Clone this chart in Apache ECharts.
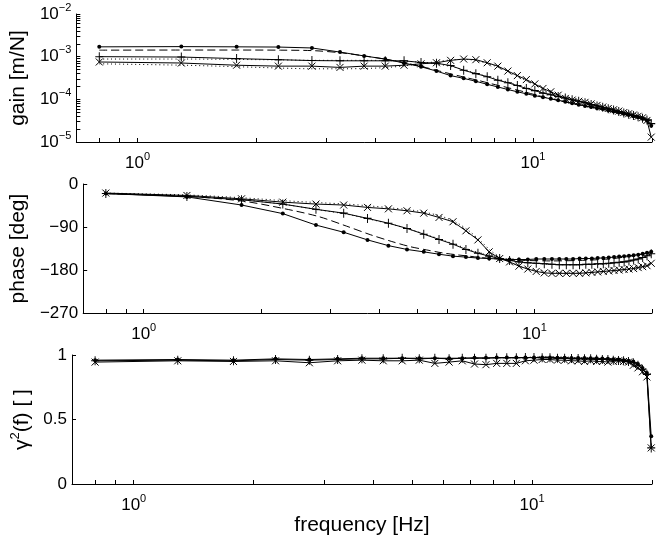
<!DOCTYPE html>
<html>
<head>
<meta charset="utf-8">
<script src="https://cdn.jsdelivr.net/npm/echarts@6/dist/echarts.min.js"></script>
<style>
html,body{margin:0;padding:0;background:#fff;}
#c{width:656px;height:539px;}
</style>
</head>
<body>
<div id="c"></div>
<script>
// ---------- data ----------
const freq = [0.80, 1.29, 1.78, 2.27, 2.76, 3.25, 3.74, 4.23, 4.72, 5.21, 5.70, 6.19, 6.68, 7.17, 7.66, 8.15, 8.64, 9.13, 9.62, 10.11,
  10.60, 11.09, 11.58, 12.07, 12.56, 13.05, 13.54, 14.03, 14.52, 15.01, 15.50, 15.99, 16.48, 16.97, 17.46, 17.95, 18.44, 18.93, 19.42, 19.91];

const gainDot = [1.70e-3, 1.72e-3, 1.70e-3, 1.68e-3, 1.60e-3, 1.28e-3, 1.04e-3, 8.8e-4, 7.1e-4, 5.8e-4, 4.6e-4, 3.6e-4, 3.1e-4, 2.65e-4, 2.25e-4, 1.95e-4, 1.70e-4, 1.50e-4, 1.35e-4, 1.22e-4,
  1.12e-4, 1.03e-4, 9.5e-5, 8.8e-5, 8.1e-5, 7.5e-5, 7.0e-5, 6.6e-5, 6.2e-5, 5.9e-5, 5.5e-5, 5.2e-5, 4.9e-5, 4.6e-5, 4.3e-5, 4.0e-5, 3.8e-5, 3.5e-5, 3.2e-5, 2.4e-5];
const gainPlus = [1.0e-3, 9.8e-4, 9.0e-4, 8.5e-4, 8.1e-4, 8.0e-4, 8.0e-4, 8.0e-4, 8.0e-4, 7.3e-4, 7.0e-4, 6.2e-4, 4.8e-4, 4.0e-4, 3.4e-4, 2.8e-4, 2.45e-4, 2.1e-4, 1.8e-4, 1.6e-4,
  1.4e-4, 1.28e-4, 1.17e-4, 1.07e-4, 9.8e-5, 9.0e-5, 8.3e-5, 7.6e-5, 7.0e-5, 6.5e-5, 6.0e-5, 5.6e-5, 5.2e-5, 4.8e-5, 4.5e-5, 4.2e-5, 3.9e-5, 3.6e-5, 3.3e-5, 2.7e-5];
const gainCross = [7.5e-4, 7.1e-4, 6.3e-4, 6.0e-4, 6.0e-4, 5.6e-4, 6.0e-4, 6.0e-4, 6.3e-4, 6.8e-4, 7.2e-4, 8.2e-4, 8.8e-4, 8.5e-4, 7.2e-4, 6.0e-4, 4.6e-4, 3.6e-4, 2.9e-4, 2.3e-4,
  1.8e-4, 1.5e-4, 1.25e-4, 1.05e-4, 9.6e-5, 9.0e-5, 8.5e-5, 7.8e-5, 7.2e-5, 6.6e-5, 6.1e-5, 5.7e-5, 5.3e-5, 4.9e-5, 4.6e-5, 4.3e-5, 4.0e-5, 3.7e-5, 3.2e-5, 1.3e-5];

const phaseDot = [-20, -27, -44, -62, -86, -101, -117, -129, -137, -142, -147, -151, -153, -155, -156, -157, -158, -158, -158, -157,
  -157, -157, -157, -157, -157, -156, -156, -156, -155, -155, -154, -153, -152, -151, -150, -149, -148, -146, -144, -142];
const phasePlus = [-20, -26, -33, -42, -53, -61, -72, -82, -93, -105, -116, -126, -137, -145, -151, -156, -160, -163, -165, -166,
  -167, -168, -169, -169, -169, -169, -168, -168, -167, -167, -166, -165, -164, -163, -161, -159, -157, -154, -150, -146];
const phaseCross = [-19, -24, -31, -38, -42, -44, -49, -52, -56, -61, -70, -79, -98, -117, -142, -156, -163, -172, -178, -183,
  -186, -187, -187, -187, -187, -187, -186, -185, -184, -183, -182, -181, -180, -179, -178, -177, -175, -173, -171, -166];

const cohDot = [0.96, 0.965, 0.96, 0.97, 0.965, 0.97, 0.975, 0.975, 0.975, 0.975, 0.975, 0.975, 0.975, 0.978, 0.978, 0.98, 0.98, 0.98, 0.98, 0.98,
  0.98, 0.98, 0.978, 0.978, 0.976, 0.976, 0.976, 0.975, 0.975, 0.972, 0.97, 0.968, 0.965, 0.96, 0.955, 0.95, 0.93, 0.90, 0.86, 0.37];
const cohPlus = [0.955, 0.96, 0.955, 0.965, 0.96, 0.965, 0.97, 0.97, 0.975, 0.97, 0.975, 0.97, 0.975, 0.975, 0.975, 0.978, 0.978, 0.978, 0.98, 0.98,
  0.978, 0.978, 0.975, 0.975, 0.972, 0.972, 0.97, 0.97, 0.968, 0.965, 0.965, 0.96, 0.958, 0.955, 0.95, 0.94, 0.92, 0.89, 0.85, 0.28];
const cohCross = [0.945, 0.955, 0.95, 0.955, 0.94, 0.955, 0.96, 0.955, 0.955, 0.96, 0.935, 0.945, 0.955, 0.93, 0.925, 0.935, 0.935, 0.935, 0.955, 0.96,
  0.965, 0.965, 0.96, 0.96, 0.955, 0.955, 0.95, 0.955, 0.95, 0.95, 0.945, 0.95, 0.955, 0.95, 0.945, 0.92, 0.90, 0.87, 0.83, 0.28];

// model (fit) curves
const modelFreq = [0.8, 1.3, 1.8, 2.3, 2.8, 3.3, 3.8, 4.3, 4.8, 5.3, 5.8, 6.3, 6.8, 7.3, 7.8, 8.5, 9.5, 11, 13, 15.5, 18, 20];
const gainModelDash = [1.42e-3, 1.43e-3, 1.43e-3, 1.42e-3, 1.38e-3, 1.22e-3, 1.02e-3, 8.5e-4, 7.0e-4, 5.7e-4, 4.6e-4, 3.8e-4, 3.2e-4, 2.75e-4, 2.35e-4, 1.95e-4, 1.5e-4, 1.05e-4, 7.5e-5, 5.4e-5, 3.9e-5, 3.1e-5];
const gainModelDotA = [8.8e-4, 8.8e-4, 8.6e-4, 8.4e-4, 8.2e-4, 8.2e-4, 8.2e-4, 8.1e-4, 7.8e-4, 7.3e-4, 6.6e-4, 5.7e-4, 4.7e-4, 3.9e-4, 3.3e-4, 2.65e-4, 1.95e-4, 1.3e-4, 8.8e-5, 6.0e-5, 4.2e-5, 3.3e-5];
const gainModelDotB = [6.8e-4, 6.3e-4, 5.8e-4, 5.4e-4, 5.2e-4, 5.2e-4, 5.3e-4, 5.6e-4, 6.2e-4, 7.0e-4, 7.8e-4, 8.5e-4, 8.6e-4, 7.8e-4, 6.6e-4, 4.8e-4, 2.9e-4, 1.55e-4, 9.5e-5, 6.3e-5, 4.3e-5, 3.4e-5];
const phaseModelDash = [-20, -26, -36, -52, -68, -88, -106, -120, -131, -138, -144, -148, -151, -154, -156, -158, -160, -161, -160, -157, -150, -143];
const phaseModelDotA = [-20, -25, -33, -43, -54, -63, -74, -84, -95, -106, -117, -127, -137, -145, -151, -158, -164, -168, -169, -167, -160, -148];
const phaseModelDotB = [-19, -23, -29, -35, -39, -42, -46, -50, -54, -60, -68, -80, -98, -120, -142, -160, -176, -184, -186, -183, -176, -168];

// ticks
const xTicks = [0.8, 0.9, 1, 2, 3, 4, 5, 6, 7, 8, 9, 10, 20];
const xTickLabels = [1, 10];
const gainTickLabels = [1e-5, 1e-4, 1e-3, 1e-2];
const phaseTickLabels = [0, -90, -180, -270];
const cohTickLabels = [0, 0.5, 1];

// ---------- chart ----------
const gainTicks = [];
gainTickLabels.forEach((d, i) => {
  gainTicks.push(d);
  if (i < gainTickLabels.length - 1) for (let m = 2; m <= 9; m++) gainTicks.push(+(m * d).toPrecision(3));
});

const FONT = '"Liberation Sans", Arial, sans-serif';
const zip = (xs, ys) => xs.map((x, i) => [x, ys[i]]);
const rich = {
  b: { fontSize: 17, lineHeight: 24, color: '#000', fontFamily: FONT },
  s: { fontSize: 11, lineHeight: 4, verticalAlign: 'top', color: '#000', fontFamily: FONT }
};
const powLabel = v => {
  const e = Math.round(Math.log10(v));
  return '{b|10}{s|' + (e < 0 ? '\u2212' + (-e) : e) + '}';
};

const plusPath = 'path://M5,0L5,10M0,5L10,5';
const crossPath = 'path://M0,0L10,10M10,0L0,10';

function xAxisFor(i, withName) {
  return {
    type: 'log', logBase: 10, gridIndex: i, min: 0.7, max: 20,
    axisLine: { show: true, onZero: false, lineStyle: { color: '#000', width: 1 } },
    axisTick: { show: true, inside: true, length: 4, customValues: xTicks, lineStyle: { color: '#000' } },
    minorTick: { show: false },
    splitLine: { show: false },
    axisLabel: { margin: 9, customValues: xTickLabels, formatter: powLabel, rich: rich },
    name: withName ? 'frequency [Hz]' : '',
    nameLocation: 'middle', nameGap: 29,
    nameTextStyle: { fontSize: 21, color: '#000', fontFamily: FONT }
  };
}
const yBase = {
  axisLine: { show: true, onZero: false, lineStyle: { color: '#000', width: 1 } },
  splitLine: { show: false },
  nameLocation: 'middle', nameRotate: 90,
  nameTextStyle: { fontSize: 21, color: '#000', fontFamily: FONT }
};

function dataSeries(i, xs, ys, kind) {
  const s = {
    type: 'line', xAxisIndex: i, yAxisIndex: i, data: zip(xs, ys),
    lineStyle: { color: '#000', width: 1 }, showAllSymbol: true, z: 3, silent: true
  };
  if (kind === 'dot') {
    s.symbol = 'circle'; s.symbolSize = 4; s.itemStyle = { color: '#000' };
  } else {
    s.symbol = kind === 'plus' ? plusPath : crossPath;
    s.symbolSize = kind === 'plus' ? [8, 9] : [7, 7];
    s.itemStyle = { color: 'rgba(0,0,0,0)', borderColor: '#000', borderWidth: 1 };
  }
  return s;
}
function modelSeries(i, ys, type) {
  return {
    type: 'line', xAxisIndex: i, yAxisIndex: i, data: zip(modelFreq, ys), symbol: 'none', smooth: 0.3,
    lineStyle: { color: '#000', width: 1, type: type }, z: 2, silent: true
  };
}

const option = {
  animation: false,
  backgroundColor: '#fff',
  textStyle: { fontFamily: FONT },
  grid: [
    { left: 72, top: 14, width: 580, height: 128 },
    { left: 72, top: 184, width: 580, height: 129 },
    { left: 72, top: 355, width: 580, height: 129 }
  ],
  xAxis: [xAxisFor(0, false), xAxisFor(1, false), xAxisFor(2, true)],
  yAxis: [
    Object.assign({}, yBase, {
      type: 'log', logBase: 10, gridIndex: 0, min: 1e-5, max: 1e-2,
      axisTick: { show: true, inside: true, length: 4, customValues: gainTicks, lineStyle: { color: '#000' } },
      axisLabel: { margin: 5, customValues: gainTickLabels, formatter: powLabel, rich: rich },
      name: 'gain [m/N]', nameGap: 36
    }),
    Object.assign({}, yBase, {
      type: 'value', gridIndex: 1, min: -270, max: 0, interval: 90,
      axisTick: { show: true, inside: true, length: 4, lineStyle: { color: '#000' } },
      axisLabel: { margin: 5, fontSize: 17, color: '#000', fontFamily: FONT,
        formatter: v => String(v).replace('-', '\u2212') },
      name: 'phase [deg]', nameGap: 49
    }),
    Object.assign({}, yBase, {
      type: 'value', gridIndex: 2, min: 0, max: 1, interval: 0.5,
      axisTick: { show: true, inside: true, length: 4, lineStyle: { color: '#000' } },
      axisLabel: { margin: 5, fontSize: 17, color: '#000', fontFamily: FONT },
      name: '{a|\u03b3}{s|2}{a|(f) [ ]}', nameGap: 37,
      nameTextStyle: { fontSize: 21, color: '#000', fontFamily: FONT,
        rich: { a: { fontSize: 21, lineHeight: 26, color: '#000', fontFamily: FONT },
                 s: { fontSize: 13, lineHeight: 6, verticalAlign: 'top', color: '#000', fontFamily: FONT } } }
    })
  ],
  series: [
    modelSeries(0, gainModelDash, [8, 4]),
    modelSeries(0, gainModelDotA, [1, 3]),
    modelSeries(0, gainModelDotB, [1, 3]),
    dataSeries(0, freq, gainDot, 'dot'),
    dataSeries(0, freq, gainPlus, 'plus'),
    dataSeries(0, freq, gainCross, 'cross'),

    modelSeries(1, phaseModelDash, [8, 4]),
    modelSeries(1, phaseModelDotA, [1, 3]),
    modelSeries(1, phaseModelDotB, [1, 3]),
    dataSeries(1, freq, phaseDot, 'dot'),
    dataSeries(1, freq, phasePlus, 'plus'),
    dataSeries(1, freq, phaseCross, 'cross'),

    dataSeries(2, freq, cohDot, 'dot'),
    dataSeries(2, freq, cohPlus, 'plus'),
    dataSeries(2, freq, cohCross, 'cross')
  ]
};

const chart = echarts.init(document.getElementById('c'), null, { renderer: 'canvas', width: 656, height: 539 });
chart.setOption(option);
</script>
</body>
</html>
